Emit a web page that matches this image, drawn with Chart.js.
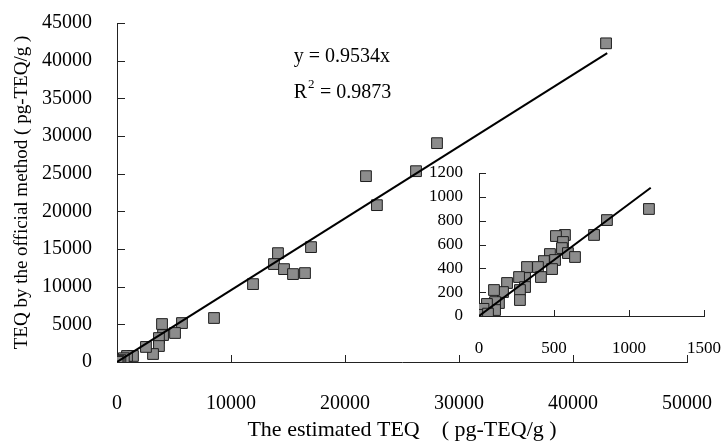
<!DOCTYPE html>
<html>
<head>
<meta charset="utf-8">
<script src="https://cdn.jsdelivr.net/npm/chart.js@4.4.1/dist/chart.umd.min.js"></script>
<style>
  html, body { margin: 0; padding: 0; background: #fff; }
  #wrap { position: relative; width: 724px; height: 447px; }
  #mainChart { position: absolute; left: 0; top: 0; }
  #insetChart { position: absolute; left: 420px; top: 160px; }
</style>
</head>
<body>
<div id="wrap">
  <canvas id="mainChart" width="724" height="447"></canvas>
  <canvas id="insetChart" width="304" height="210"></canvas>
</div>
<script>
// main plot data (pg-TEQ/g)
const mainEstimated = [42900, 28070, 26230, 21840, 22800, 14120, 13770, 14650, 15440, 16490,
  17020, 11930, 8510, 5700, 5090, 3950, 4040, 3680, 3680, 3160, 2540, 1400, 880, 600, 300, 150, 50];
const mainOfficial = [42300, 29050, 25330, 24670, 20820, 14450, 13000, 12330, 11670, 11800,
  15250, 10340, 5840, 5170, 3850, 5040, 3580, 3180, 2120, 1060, 2000, 800, 800, 500, 250, 120, 30];

// inset data: the low range
const insetEstimated = [1133, 853, 767, 573, 513, 560, 553, 593, 640, 473, 507, 433, 487, 393, 413,
  320, 307, 267, 307, 273, 273, 187, 160, 100, 133, 107, 107, 53, 47, 7, 0, 30, 15, 60];
const insetOfficial = [898, 805, 680, 680, 671, 621, 570, 528, 495, 520, 470, 461, 394, 411, 327,
  411, 319, 327, 243, 218, 134, 277, 201, 218, 109, 117, 50, 101, 25, 34, 0, 60, 10, 20];

const slope = 0.9534;
const insetSlope = 0.94;
const mainLineEnd = 43000;
const insetLineEnd = 1145;

const mainXTicks = [0, 10000, 20000, 30000, 40000, 50000];
const mainYTicks = [0, 5000, 10000, 15000, 20000, 25000, 30000, 35000, 40000, 45000];
const insetXTicks = [0, 500, 1000, 1500];
const insetYTicks = [0, 200, 400, 600, 800, 1000, 1200];

const FONT = "'Liberation Serif', 'Times New Roman', serif";

function toPoints(xs, ys) {
  return xs.map((x, i) => ({ x: x, y: ys[i] }));
}

// ticks point inwards, so draw them by hand
const innerTicks = {
  id: 'innerTicks',
  afterDraw(chart, args, opts) {
    const ctx = chart.ctx;
    const xs = chart.scales.x, ys = chart.scales.y;
    ctx.save();
    ctx.strokeStyle = '#222';
    ctx.lineWidth = 1;
    ctx.beginPath();
    opts.xTicks.forEach(v => {
      const px = Math.round(xs.getPixelForValue(v)) + 0.5;
      if (v === opts.xTicks[0]) return;
      ctx.moveTo(px, ys.bottom);
      ctx.lineTo(px, ys.bottom - opts.xLen);
    });
    opts.yTicks.forEach(v => {
      const py = Math.round(ys.getPixelForValue(v)) + 0.5;
      if (v === opts.yTicks[0]) return;
      ctx.moveTo(xs.left, py);
      ctx.lineTo(xs.left + opts.yLen, py);
    });
    ctx.stroke();
    ctx.restore();
  }
};

const fitEquation = {
  id: 'fitEquation',
  afterDraw(chart) {
    const ctx = chart.ctx;
    const px = chart.scales.x.getPixelForValue(15500);
    const py = chart.scales.y.getPixelForValue(39800);
    ctx.save();
    ctx.fillStyle = '#000';
    ctx.textBaseline = 'alphabetic';
    ctx.font = '20px ' + FONT;
    ctx.fillText('y = ' + slope + 'x', px, py);
    ctx.fillText('R', px, py + 36);
    const rw = ctx.measureText('R').width;
    ctx.font = '13px ' + FONT;
    ctx.fillText('2', px + rw + 1, py + 36 - 10);
    ctx.font = '20px ' + FONT;
    ctx.fillText(' = 0.9873', px + rw + 8, py + 36);
    ctx.restore();
  }
};

function scatterSet(data) {
  return {
    type: 'scatter',
    data: data,
    pointStyle: 'rect',
    pointRadius: 7.6,
    backgroundColor: '#8c8c8c',
    borderColor: '#1e1e1e',
    borderWidth: 1,
    order: 2
  };
}

function lineSet(end, k) {
  return {
    type: 'line',
    data: [{ x: 0, y: 0 }, { x: end, y: end * k }],
    borderColor: '#000',
    borderWidth: 2,
    pointRadius: 0,
    fill: false,
    order: 1
  };
}

// fixed axis box size, no extra label overhang padding
function fixX(h) {
  return s => { s.height = h; s.paddingLeft = 0; s.paddingRight = 0; };
}
function fixY(w) {
  return s => { s.width = w; s.paddingTop = 0; s.paddingBottom = 0; };
}

function axis(min, max, step, tickSize, pad, fit, title) {
  return {
    type: 'linear',
    min: min, max: max,
    afterFit: fit,
    grid: { display: true, drawOnChartArea: false, drawTicks: false },
    border: { display: true, color: '#222', width: 1 },
    ticks: {
      stepSize: step,
      autoSkip: false,
      maxRotation: 0,
      padding: pad,
      color: '#000',
      font: { family: FONT, size: tickSize },
      callback: v => String(v)
    },
    title: title
  };
}

new Chart(document.getElementById('mainChart'), {
  data: {
    datasets: [
      lineSet(mainLineEnd, slope),
      scatterSet(toPoints(mainEstimated, mainOfficial))
    ]
  },
  options: {
    responsive: false,
    animation: false,
    layout: { padding: { top: 23, right: 37, left: 0, bottom: 0 } },
    plugins: {
      legend: { display: false },
      tooltip: { enabled: false },
      innerTicks: { xTicks: mainXTicks, yTicks: mainYTicks, xLen: 7, yLen: 8 }
    },
    scales: {
      x: axis(0, 50000, 10000, 20, 30, fixX(85), {
        display: true,
        text: 'The estimated TEQ    ( pg-TEQ/g )',
        color: '#000',
        font: { family: FONT, size: 22 },
        padding: { top: 0, bottom: 4 }
      }),
      y: axis(0, 45000, 5000, 20, 25, fixY(117), {
        display: true,
        text: 'TEQ by the official method ( pg-TEQ/g )',
        color: '#000',
        font: { family: FONT, size: 19 },
        padding: { top: 11, bottom: 0 }
      })
    }
  },
  plugins: [innerTicks, fitEquation]
});

new Chart(document.getElementById('insetChart'), {
  data: {
    datasets: [
      lineSet(insetLineEnd, insetSlope),
      scatterSet(toPoints(insetEstimated, insetOfficial))
    ]
  },
  options: {
    responsive: false,
    animation: false,
    layout: { padding: { top: 13, right: 20, left: 0, bottom: 0 } },
    plugins: {
      legend: { display: false },
      tooltip: { enabled: false },
      innerTicks: { xTicks: insetXTicks, yTicks: insetYTicks, xLen: 6, yLen: 7 }
    },
    scales: {
      x: axis(0, 1500, 500, 17, 22, fixX(54), { display: false }),
      y: axis(0, 1200, 200, 17, 16, fixY(59), { display: false })
    }
  },
  plugins: [innerTicks]
});
</script>
</body>
</html>
